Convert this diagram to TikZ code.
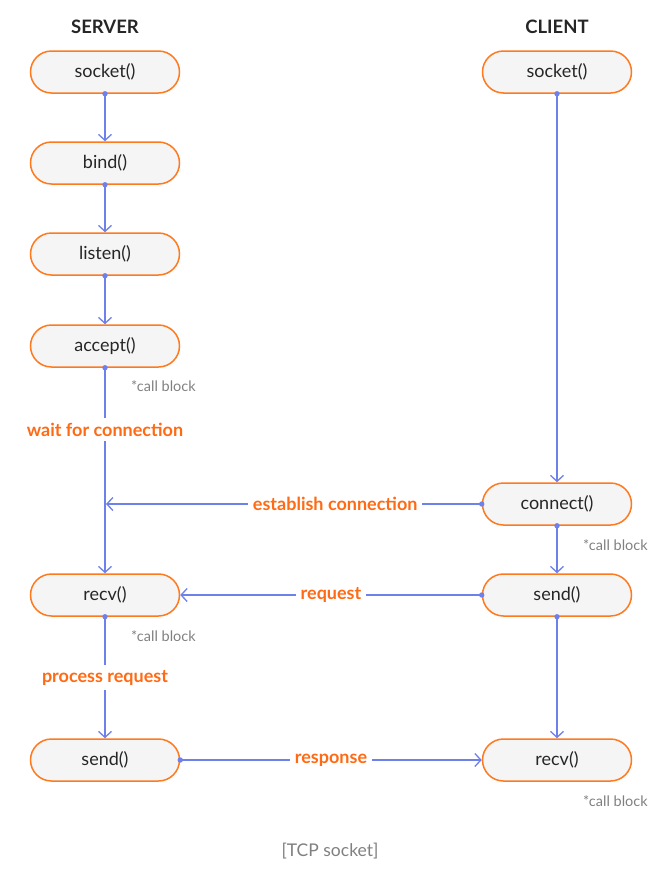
\documentclass[tikz,border=0pt]{standalone}
\usepackage{fontspec}
\setmainfont{Lato}
\usetikzlibrary{arrows.meta,shapes.misc}
\definecolor{boxorange}{HTML}{FF7A1F}
\definecolor{labelorange}{HTML}{FF6A14}
\definecolor{arrowblue}{HTML}{6E80EA}
\definecolor{boxfill}{HTML}{F5F5F5}
\definecolor{notegray}{HTML}{808080}
\begin{document}
\begin{tikzpicture}[x=1pt,y=-1pt,
  fnbox/.style={rounded rectangle, draw=boxorange, fill=boxfill, line width=1.5pt,
    minimum width=149pt, minimum height=42pt, inner sep=0pt,
    font=\fontsize{18}{21}\selectfont, text=black!85},
  header/.style={font=\fontsize{18.5}{22}\selectfont\bfseries, text=black!85},
  flow/.style={draw=arrowblue, line width=1.3pt,
    -{Straight Barb[length=6pt,width=13pt,line width=1.3pt]}},
  dotst/.style={fill=arrowblue},
  lbl/.style={fill=white, text=labelorange, font=\fontsize{18}{21}\selectfont\bfseries, inner sep=5pt},
  note/.style={text=notegray, font=\fontsize{14.5}{17}\selectfont, anchor=west, inner sep=0pt}
]
\useasboundingbox (0,0) rectangle (671,876);
% headers
\node[header] (hs) at (105,27) {SERVER};
\node[header] (hc) at (557,27) {CLIENT};
% server
\node[fnbox] (ssock) at (105,72) {socket()};
\node[fnbox] (sbind) at (105,163) {bind()};
\node[fnbox] (slist) at (105,254) {listen()};
\node[fnbox] (sacc) at (105,346) {accept()};
\node[fnbox] (srecv) at (105,595) {recv()};
\node[fnbox] (ssend) at (105,760) {send()};
% client
\node[fnbox] (csock) at (557,72) {socket()};
\node[fnbox] (cconn) at (557,504) {connect()};
\node[fnbox] (csend) at (557,595) {send()};
\node[fnbox] (crecv) at (557,760) {recv()};
% server flow
\draw[flow] (ssock.south) -- (sbind.north);
\draw[flow] (sbind.south) -- (slist.north);
\draw[flow] (slist.south) -- (sacc.north);
\draw[flow] (sacc.south) -- node[lbl, pos=0.3] (wfc) {wait for connection} (srecv.north);
\draw[flow] (srecv.south) -- node[lbl, pos=0.5] (pr) {process request} (ssend.north);
% client flow
\draw[flow] (csock.south) -- (cconn.north);
\draw[flow] (cconn.south) -- (csend.north);
\draw[flow] (csend.south) -- (crecv.north);
% horizontal
\coordinate (est) at (106,504);
\draw[flow] (cconn.west) -- node[lbl, pos=0.39] (estl) {establish connection} (est);
\draw[flow] (csend.west) -- node[lbl, pos=0.5] (req) {request} (srecv.east);
\draw[flow] (ssend.east) -- node[lbl, pos=0.5] (resp) {response} (crecv.west);
% start dots
\foreach \n in {ssock.south,sbind.south,slist.south,sacc.south,srecv.south,
  csock.south,cconn.south,csend.south,cconn.west,csend.west,ssend.east}
  \fill[dotst] (\n) circle (2.7pt);
% notes
\node[note] (n1) at (131,386) {*call block};
\node[note] (n2) at (131,636) {*call block};
\node[note] (n3) at (583,545) {*call block};
\node[note] (n4) at (583,801) {*call block};
% title
\node[text=notegray, font=\fontsize{17.5}{20}\selectfont] (title) at (330,851) {[TCP socket]};
\end{tikzpicture}
\end{document}
